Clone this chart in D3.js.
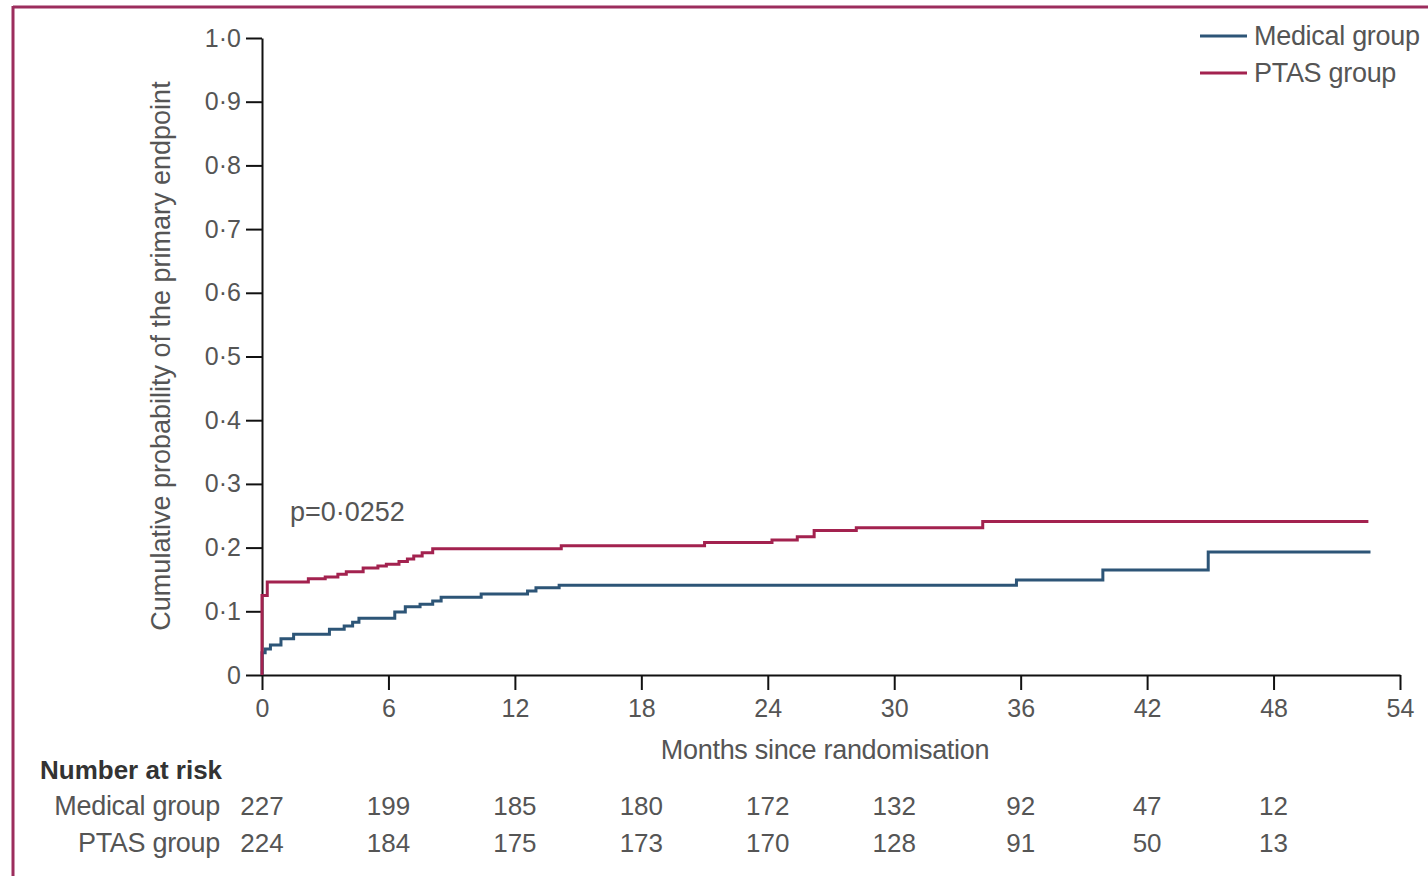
<!DOCTYPE html>
<html>
<head>
<meta charset="utf-8">
<script src="https://cdn.jsdelivr.net/npm/d3@7"></script>
<style>
  html, body { margin: 0; padding: 0; background: #fff; }
  svg { display: block; }
  text { font-family: "Liberation Sans", Arial, sans-serif; }
</style>
</head>
<body>
<svg id="chart" width="1428" height="876"></svg>
<script>
// ---- Data ----
const groups = ["Medical group", "PTAS group"];

// Kaplan–Meier style cumulative probability, step-after
const medicalMonths = [0, 0.15, 0.4, 0.9, 1.5, 3.2, 3.9, 4.3, 4.6, 6.3, 6.8, 7.5, 8.1, 8.5, 10.4, 12.6, 13.0, 14.1, 35.8, 39.9, 44.9, 52.6];
const medicalProb   = [0.035, 0.041, 0.047, 0.057, 0.064, 0.072, 0.077, 0.083, 0.089, 0.099, 0.107, 0.111, 0.116, 0.122, 0.127, 0.132, 0.137, 0.141, 0.149, 0.165, 0.193, 0.193];

const ptasMonths = [0, 0.25, 2.2, 3.0, 3.6, 4.0, 4.8, 5.5, 5.9, 6.5, 6.9, 7.2, 7.6, 8.1, 14.2, 21.0, 24.2, 25.4, 26.2, 28.2, 34.2, 52.5];
const ptasProb   = [0.125, 0.146, 0.151, 0.154, 0.158, 0.162, 0.168, 0.171, 0.174, 0.178, 0.182, 0.187, 0.192, 0.198, 0.203, 0.208, 0.212, 0.217, 0.227, 0.231, 0.241, 0.241];

const xTicks = [0, 6, 12, 18, 24, 30, 36, 42, 48, 54];
const yTicks = [0, 0.1, 0.2, 0.3, 0.4, 0.5, 0.6, 0.7, 0.8, 0.9, 1.0];
const yTickLabels = ["0", "0·1", "0·2", "0·3", "0·4", "0·5", "0·6", "0·7", "0·8", "0·9", "1·0"];

const riskMonths = [0, 6, 12, 18, 24, 30, 36, 42, 48];
const riskMedical = [227, 199, 185, 180, 172, 132, 92, 47, 12];
const riskPtas    = [224, 184, 175, 173, 170, 128, 91, 50, 13];

const pValueText = "p=0·0252";
const xAxisTitle = "Months since randomisation";
const yAxisTitle = "Cumulative probability of the primary endpoint";

// ---- Layout ----
const colors = { "Medical group": "#2d5577", "PTAS group": "#a3224f" };
const textColor = "#555";
const frameColor = "#9c2d5d";

const svg = d3.select("#chart");
const plot = { left: 262, right: 1400, top: 38, bottom: 675 };

const x = d3.scaleLinear().domain([0, 54]).range([plot.left, plot.right]);
const y = d3.scaleLinear().domain([0, 1]).range([plot.bottom, plot.top]);

// outer frame (top and left edges visible)
svg.append("line").attr("x1", 13).attr("x2", 1428).attr("y1", 7).attr("y2", 7)
  .attr("stroke", frameColor).attr("stroke-width", 3);
svg.append("line").attr("x1", 13).attr("x2", 13).attr("y1", 6).attr("y2", 876)
  .attr("stroke", frameColor).attr("stroke-width", 3);

// Y axis
const yAxis = d3.axisLeft(y).tickValues(yTicks)
  .tickFormat((d, i) => yTickLabels[i]).tickSize(16).tickPadding(5).tickSizeOuter(0);
const gy = svg.append("g").attr("transform", `translate(${plot.left},0)`).call(yAxis);
gy.select(".domain").attr("stroke", "#111").attr("stroke-width", 2);
gy.selectAll(".tick line").attr("stroke", "#111").attr("stroke-width", 2);
gy.selectAll(".tick text").attr("fill", textColor).style("font-size", "25px");

// X axis
const xAxis = d3.axisBottom(x).tickValues(xTicks).tickSize(15).tickPadding(9).tickSizeOuter(0);
const gx = svg.append("g").attr("transform", `translate(0,${plot.bottom})`).call(xAxis);
gx.select(".domain").attr("stroke", "#111").attr("stroke-width", 2);
gx.selectAll(".tick line").attr("stroke", "#111").attr("stroke-width", 2);
gx.selectAll(".tick text").attr("fill", textColor).style("font-size", "25px");

// axis titles
svg.append("text").attr("x", 825).attr("y", 759).attr("text-anchor", "middle")
  .attr("fill", textColor).style("font-size", "27px").style("letter-spacing", "-0.3px").text(xAxisTitle);
svg.append("text").attr("transform", "translate(170,356) rotate(-90)")
  .attr("text-anchor", "middle").attr("fill", textColor).style("font-size", "27px").text(yAxisTitle);

// curves
const line = d3.line().x(d => x(d[0])).y(d => y(d[1])).curve(d3.curveStepAfter);
const series = [
  { name: "Medical group", pts: [[0, 0]].concat(medicalMonths.map((m, i) => [m, medicalProb[i]])) },
  { name: "PTAS group", pts: [[0, 0]].concat(ptasMonths.map((m, i) => [m, ptasProb[i]])) }
];
svg.selectAll("path.curve").data(series).join("path").attr("class", "curve")
  .attr("d", d => line(d.pts)).attr("fill", "none")
  .attr("stroke", d => colors[d.name]).attr("stroke-width", 3);

// p value
svg.append("text").attr("x", 290).attr("y", 521).attr("fill", textColor)
  .style("font-size", "27px").text(pValueText);

// legend
const lg = svg.append("g");
groups.forEach((g, i) => {
  const yy = 36 + i * 37;
  lg.append("line").attr("x1", 1200).attr("x2", 1247).attr("y1", yy).attr("y2", yy)
    .attr("stroke", colors[g]).attr("stroke-width", 3);
  lg.append("text").attr("x", 1254).attr("y", yy + 9).attr("fill", textColor)
    .style("font-size", "27px").style("letter-spacing", "-0.3px").text(g);
});

// number at risk table
svg.append("text").attr("x", 40).attr("y", 779).attr("fill", "#333")
  .style("font-size", "26px").style("font-weight", "bold").text("Number at risk");
const rows = [
  { name: "Medical group", vals: riskMedical, yy: 815 },
  { name: "PTAS group", vals: riskPtas, yy: 852 }
];
rows.forEach(r => {
  svg.append("text").attr("x", 220).attr("y", r.yy).attr("text-anchor", "end")
    .attr("fill", textColor).style("font-size", "27px").style("letter-spacing", "-0.3px").text(r.name);
  svg.append("g").selectAll("text").data(riskMonths).join("text")
    .attr("x", d => x(d)).attr("y", r.yy).attr("text-anchor", "middle")
    .attr("fill", textColor).style("font-size", "26px")
    .text((d, i) => r.vals[i]);
});
</script>
</body>
</html>
